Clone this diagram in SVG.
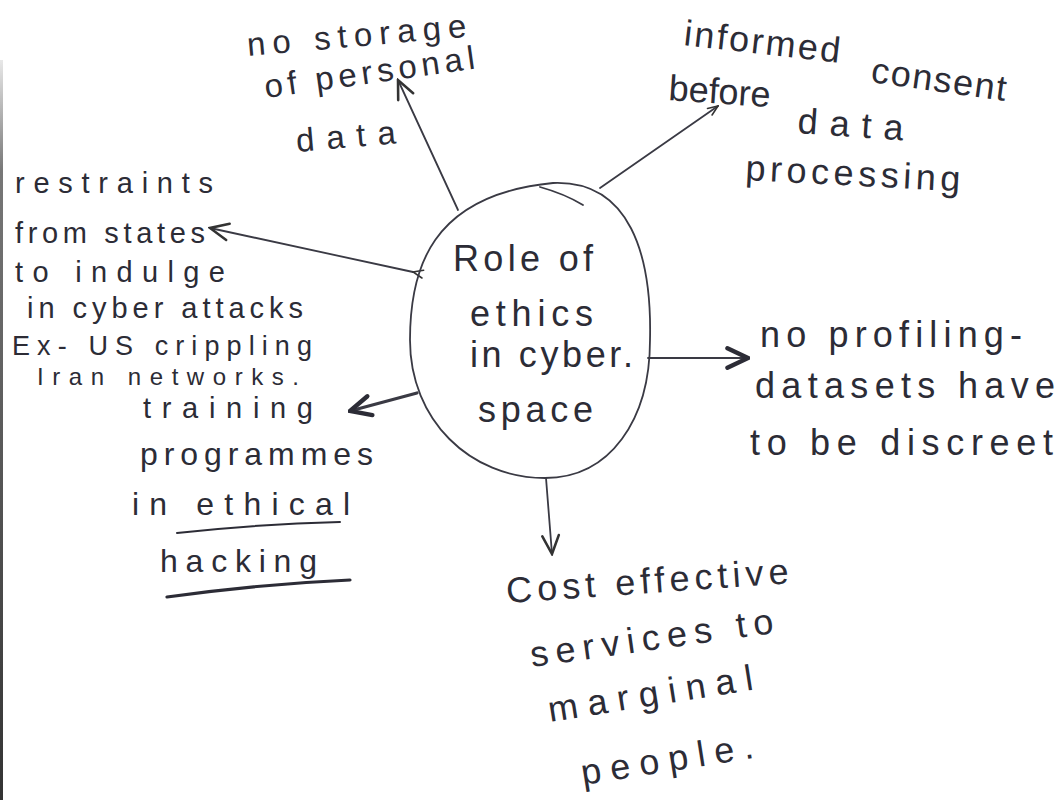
<svg xmlns="http://www.w3.org/2000/svg" width="1063" height="800" viewBox="0 0 1063 800">
<style>
  .t { font-family: "Liberation Sans", Arial, sans-serif; font-size: 36px; fill: #2c2c36; }
  .s { font-family: "Liberation Sans", Arial, sans-serif; font-size: 33px; fill: #2c2c36; }
  .l { font-family: "Liberation Sans", Arial, sans-serif; font-size: 29px; fill: #2c2c36; }
  .m { font-family: "Liberation Sans", Arial, sans-serif; font-size: 32px; fill: #2c2c36; }
  .c { font-family: "Liberation Sans", Arial, sans-serif; font-size: 36px; fill: #2c2c36; }
  .ln { fill: none; stroke: #3a3a44; stroke-width: 1.8; stroke-linecap: round; }
  .bold { stroke-width: 3.2; }
  .ul { fill: none; stroke: #2c2c36; stroke-linecap: round; }
</style>
<defs>
  <marker id="arr" viewBox="0 0 12 12" refX="11" refY="6" markerWidth="22" markerHeight="22" markerUnits="userSpaceOnUse" orient="auto">
    <path d="M1,1.5 L11,6 L1,10.5" fill="none" stroke="#333" stroke-width="1.4" stroke-linecap="round"/>
  </marker>
  <marker id="arrS" viewBox="0 0 12 12" refX="11" refY="6" markerWidth="12" markerHeight="12" markerUnits="userSpaceOnUse" orient="auto">
    <path d="M1,2 L11,6 L1,10" fill="none" stroke="#333" stroke-width="1.6" stroke-linecap="round"/>
  </marker>
  <marker id="arrB" viewBox="0 0 12 12" refX="11" refY="6" markerWidth="26" markerHeight="26" markerUnits="userSpaceOnUse" orient="auto">
    <path d="M1.5,1.5 L11,6 L1.5,10.5" fill="none" stroke="#2c2c36" stroke-width="2" stroke-linecap="round"/>
  </marker>
  <linearGradient id="edge" x1="0" y1="0" x2="0" y2="1">
    <stop offset="0" stop-color="#e8e8e8"/>
    <stop offset="0.15" stop-color="#777"/>
    <stop offset="1" stop-color="#333"/>
  </linearGradient>
</defs>
<rect x="0" y="0" width="1063" height="800" fill="#ffffff"/>
<rect x="0" y="60" width="3" height="740" fill="url(#edge)"/>

<g id="connectors">
  <line class="ln" x1="458" y1="210" x2="398" y2="80" marker-end="url(#arr)"/>
  <line class="ln" x1="600" y1="188" x2="718" y2="106" marker-end="url(#arrS)"/>
  <line class="ln" x1="413" y1="272" x2="210" y2="228" marker-end="url(#arr)" marker-start="url(#arrS)"/>
  <line class="ln bold" x1="417" y1="393" x2="350" y2="411" marker-end="url(#arrB)"/>
  <line class="ln" x1="648" y1="358" x2="748" y2="358" marker-end="url(#arrB)"/>
  <line class="ln" x1="546" y1="478" x2="552" y2="554" marker-end="url(#arr)"/>
</g>

<g id="center">
  <path class="ln" d="M 553 183 C 630 180, 652 255, 650 340 C 650 420, 610 478, 545 478 C 470 478, 410 420, 410 340 C 410 270, 430 195, 553 183 Z"/>
  <path class="ln" d="M 540 187 Q 565 194, 583 205" stroke-width="1.4"/>
  <text class="c" x="453" y="271" textLength="140">Role of</text>
  <text class="c" x="470" y="326" textLength="123">ethics</text>
  <text class="c" x="470" y="367" textLength="163">in cyber.</text>
  <text class="c" x="478" y="422" textLength="115">space</text>
</g>

<g id="node-storage">
  <text class="s" x="248" y="56" textLength="220" transform="rotate(-5 248 56)">no storage</text>
  <text class="s" x="266" y="98" textLength="212" transform="rotate(-8 266 98)">of personal</text>
  <text class="s" x="297" y="152" textLength="100" transform="rotate(-5 297 152)">data</text>
</g>

<g id="node-consent">
  <text class="t" x="683" y="45" textLength="157" transform="rotate(6.5 683 45)">informed</text>
  <text class="t" x="870" y="82" textLength="136" transform="rotate(8 870 82)">consent</text>
  <text class="t" x="668" y="100" textLength="102" transform="rotate(4 668 100)">before</text>
  <text class="t" x="797" y="133" textLength="106" transform="rotate(4 797 133)">data</text>
  <text class="t" x="745" y="180" textLength="215" transform="rotate(3 745 180)">processing</text>
</g>

<g id="node-restraints">
  <text class="l" x="15" y="193" textLength="198">restraints</text>
  <text class="l" x="15" y="243" textLength="190">from states</text>
  <text class="l" x="15" y="282" textLength="210">to indulge</text>
  <text class="l" x="27" y="318" textLength="276">in cyber attacks</text>
  <text class="l" x="12" y="355" textLength="300" style="font-size:27px">Ex- US crippling</text>
  <text class="l" x="37" y="385" textLength="262" style="font-size:24px">Iran networks.</text>
</g>

<g id="node-training">
  <text class="m" x="143" y="418" textLength="170" style="font-size:29px">training</text>
  <text class="m" x="140" y="465" textLength="233">programmes</text>
  <text class="m" x="132" y="515" textLength="218">in ethical</text>
  <path class="ul" stroke-width="2" d="M 177 533 Q 260 524, 340 522"/>
  <text class="m" x="160" y="572" textLength="157">hacking</text>
  <path class="ul" stroke-width="3.2" d="M 167 597 Q 260 584, 350 580"/>
</g>

<g id="node-profiling">
  <text class="t" x="760" y="347" textLength="262">no profiling-</text>
  <text class="t" x="755" y="398" textLength="300">datasets have</text>
  <text class="t" x="750" y="455" textLength="303">to be discreet</text>
</g>

<g id="node-cost">
  <text class="t" x="507" y="603" textLength="283" transform="rotate(-4 507 603)">Cost effective</text>
  <text class="t" x="532" y="667" textLength="245" transform="rotate(-8 532 667)">services to</text>
  <text class="t" x="550" y="722" textLength="207" transform="rotate(-9 550 722)">marginal</text>
  <text class="t" x="583" y="785" textLength="174" transform="rotate(-9 583 785)">people.</text>
</g>
</svg>
